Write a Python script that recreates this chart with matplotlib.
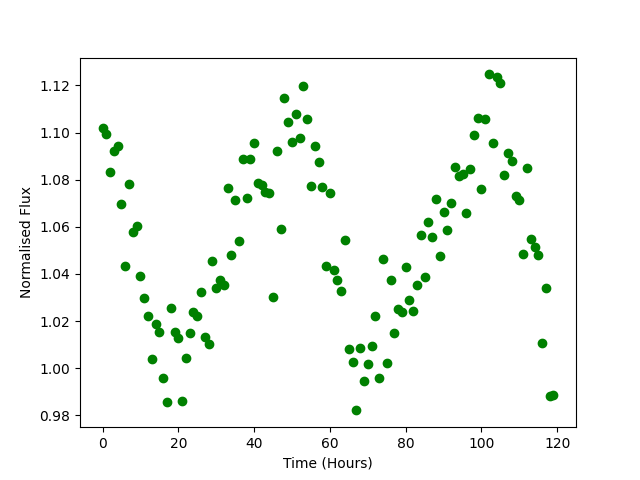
import numpy as np
import matplotlib
matplotlib.use('Agg')
import matplotlib.pyplot as plt

time = np.arange(120)
flux = [1.1020, 1.0996, 1.0834, 1.0924, 1.0944, 1.0698, 1.0435, 1.0783, 1.0579, 1.0602,
        1.0393, 1.0299, 1.0223, 1.0040, 1.0189, 1.0155, 0.9960, 0.9858, 1.0257, 1.0153,
        1.0130, 0.9862, 1.0045, 1.0151, 1.0240, 1.0223, 1.0325, 1.0134, 1.0104, 1.0456,
        1.0340, 1.0374, 1.0354, 1.0766, 1.0482, 1.0715, 1.0541, 1.0889, 1.0724, 1.0889,
        1.0957, 1.0788, 1.0779, 1.0747, 1.0743, 1.0304, 1.0920, 1.0592, 1.1148, 1.1043,
        1.0961, 1.1081, 1.0978, 1.1196, 1.1056, 1.0774, 1.0944, 1.0876, 1.0771, 1.0435,
        1.0745, 1.0418, 1.0376, 1.0329, 1.0545, 1.0080, 1.0028, 0.9821, 1.0084, 0.9947,
        1.0019, 1.0093, 1.0223, 0.9960, 1.0465, 1.0024, 1.0376, 1.0151, 1.0253, 1.0240,
        1.0431, 1.0288, 1.0244, 1.0354, 1.0567, 1.0388, 1.0622, 1.0558, 1.0719, 1.0477,
        1.0664, 1.0588, 1.0702, 1.0855, 1.0817, 1.0824, 1.0660, 1.0847, 1.0991, 1.1063,
        1.0762, 1.1059, 1.1247, 1.0957, 1.1234, 1.1211, 1.0821, 1.0914, 1.0880, 1.0729,
        1.0715, 1.0483, 1.0851, 1.0550, 1.0516, 1.0482, 1.0108, 1.0342, 0.9883, 0.9888]

plt.figure(figsize=(6.4, 4.8), dpi=100)
plt.plot(time, flux, 'go')
plt.xlabel('Time (Hours)')
plt.ylabel('Normalised Flux')
plt.savefig('out.png')
